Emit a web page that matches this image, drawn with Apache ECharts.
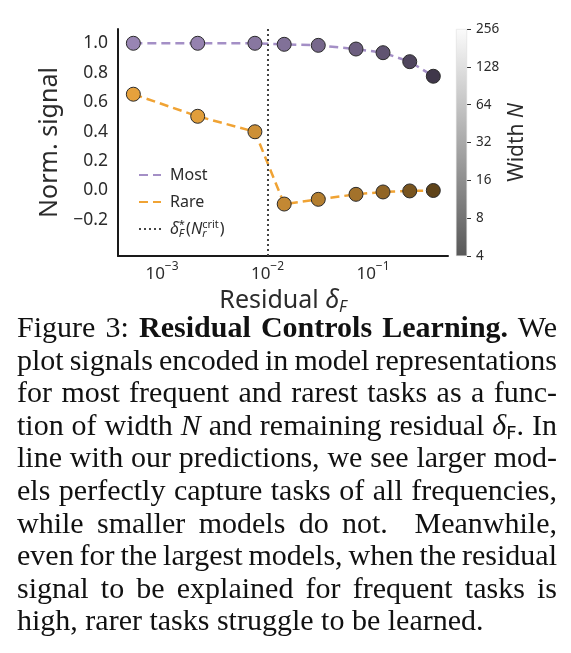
<!DOCTYPE html>
<html>
<head>
<meta charset="utf-8">
<script src="https://cdn.jsdelivr.net/npm/echarts@6/dist/echarts.min.js"></script>
<style>
  body { margin: 0; background: #fff; width: 571px; height: 653px; overflow: hidden; position: relative; }
  #chart { position: absolute; left: 0; top: 0; width: 571px; height: 325px; }
  #caption { position: absolute; left: 17px; top: 311px; width: 540px;
    font-family: "Liberation Serif", "Times New Roman", serif; font-size: 30px; line-height: 32.6px; color: #111;
    word-spacing: -2px; }
  #caption div { text-align: justify; text-align-last: justify; white-space: nowrap; }
  #caption div.last { text-align: left; text-align-last: left; word-spacing: 0; }
  #caption sub { font-family: "DejaVu Sans", sans-serif; font-size: 0.6em; vertical-align: -0.2em; line-height: 0; }
</style>
</head>
<body>
<div id="chart"></div>
<div id="caption">
  <div>Figure 3: <b>Residual Controls Learning.</b> We</div>
  <div>plot signals encoded in model representations</div>
  <div>for most frequent and rarest tasks as a func-</div>
  <div>tion of width <i>N</i> and remaining residual <i>δ</i><sub>F</sub>. In</div>
  <div>line with our predictions, we see larger mod-</div>
  <div>els perfectly capture tasks of all frequencies,</div>
  <div>while smaller models do not.&nbsp; Meanwhile,</div>
  <div>even for the largest models, when the residual</div>
  <div>signal to be explained for frequent tasks is</div>
  <div class="last">high, rarer tasks struggle to be learned.</div>
</div>
<script>
// values
var residual = [5.35e-4, 2.18e-3, 7.6e-3, 0.0144, 0.0303, 0.069, 0.1245, 0.223, 0.373];
var mostSignal = [1.0, 1.0, 1.0, 0.993, 0.986, 0.961, 0.936, 0.875, 0.776];
var rareSignal = [0.654, 0.504, 0.399, -0.092, -0.06, -0.026, -0.01, -0.003, 0.0];
var widthN = [256, 224, 128, 96, 64, 40, 24, 12, 6];
var critResidual = 0.0105;
var yTicks = [-0.2, 0.0, 0.2, 0.4, 0.6, 0.8, 1.0];
var widthMin = 4, widthMax = 256;

var FONT = '"Noto Sans", "DejaVu Sans", sans-serif';
var TXT = '#2b2b2b';
var purple = '#9885b3', orange = '#e6a13c';
var critName = 'crit';

// darken the base colour like the grey colour bar (white at 256, dark at 4)
function shade(hex, n) {
  var lo = Math.log2(widthMin), hi = Math.log2(widthMax);
  var g = 0.35 + 0.65 * (Math.log2(n) - lo) / (hi - lo);
  var c = [1, 3, 5].map(function (i) { return Math.round(parseInt(hex.substr(i, 2), 16) * g); });
  return 'rgb(' + c.join(',') + ')';
}

function pts(ys, base) {
  return residual.map(function (x, i) {
    return { value: [x, ys[i]], itemStyle: { color: shade(base, widthN[i]) } };
  });
}

var chart = echarts.init(document.getElementById('chart'));

var option = {
  animation: false,
  grid: [
    { left: 118, top: 29, width: 330, height: 227, containLabel: false, outerBoundsMode: 'none' },
    { left: 456, top: 29, width: 11, height: 227, containLabel: false, outerBoundsMode: 'none' }
  ],
  xAxis: [{
    type: 'log', gridIndex: 0,
    min: Math.pow(10, -3.417), max: Math.pow(10, -0.289),
    axisLine: { onZero: false, lineStyle: { color: '#1a1a1a', width: 2 } },
    axisTick: { show: false },
    splitLine: { show: false },
    axisLabel: {
      showMinLabel: false, showMaxLabel: false, margin: 5,
      formatter: function (v) {
        var e = Math.round(Math.log10(v));
        return '{b|10}{s|' + (e < 0 ? '\u2212' : '') + Math.abs(e) + '}';
      },
      rich: {
        b: { fontSize: 17, fontFamily: FONT, color: TXT, lineHeight: 22, verticalAlign: 'bottom' },
        s: { fontSize: 12, fontFamily: FONT, color: TXT, lineHeight: 12, verticalAlign: 'top' }
      }
    },
    name: 'Residual {d|\u03b4}{f|F}', nameLocation: 'middle', nameGap: 28,
    nameTextStyle: {
      fontSize: 25, fontFamily: FONT, color: TXT,
      rich: {
        d: { fontSize: 25, fontFamily: FONT, fontStyle: 'italic', color: TXT, lineHeight: 30, verticalAlign: 'middle' },
        f: { fontSize: 16, fontFamily: FONT, fontStyle: 'italic', color: TXT, lineHeight: 14, verticalAlign: 'bottom' }
      }
    }
  }, {
    type: 'category', gridIndex: 1, data: [''], show: false
  }],
  yAxis: [{
    type: 'value', gridIndex: 0, min: -0.445, max: 1.097,
    axisLine: { show: true, onZero: false, lineStyle: { color: '#1a1a1a', width: 2 } },
    axisTick: { show: false },
    splitLine: { show: false },
    axisLabel: {
      customValues: yTicks, margin: 10, fontSize: 17.5, fontFamily: FONT, color: TXT,
      formatter: function (v) { return (v < 0 ? '\u2212' : '') + Math.abs(v).toFixed(1); }
    },
    name: 'Norm. signal', nameLocation: 'middle', nameGap: 56,
    nameTextStyle: { fontSize: 25, fontFamily: FONT, color: TXT }
  }, {
    type: 'value', gridIndex: 1, position: 'right',
    min: Math.log2(widthMin), max: Math.log2(widthMax), interval: 1,
    axisLine: { show: false },
    axisTick: { show: true, length: 4, lineStyle: { color: '#333', width: 1 } },
    splitLine: { show: false },
    axisLabel: {
      margin: 9, fontSize: 13.5, fontFamily: FONT, color: TXT,
      formatter: function (v) { return String(Math.pow(2, v)); }
    },
    name: 'Width {n|N}', nameLocation: 'middle', nameGap: 40, nameRotate: 90,
    nameTextStyle: {
      fontSize: 21, fontFamily: FONT, color: TXT,
      rich: { n: { fontSize: 21, fontFamily: FONT, fontStyle: 'italic', color: TXT } }
    }
  }],
  legend: {
    data: ['Most', 'Rare', critName],
    orient: 'vertical', left: 133, top: 160, itemGap: 7,
    itemWidth: 22, itemHeight: 14,
    selectedMode: false,
    itemStyle: { opacity: 0 },
    textStyle: {
      fontSize: 16, fontFamily: FONT, color: TXT, lineHeight: 20, padding: [0, 0, 0, 4],
      rich: {
        m: { fontSize: 16, fontFamily: FONT, fontStyle: 'italic', color: TXT, lineHeight: 20, verticalAlign: 'middle' },
        t: { fontSize: 16, fontFamily: FONT, color: TXT, lineHeight: 20, verticalAlign: 'middle' },
        sp0: { fontSize: 11, fontFamily: FONT, color: TXT, lineHeight: 11, verticalAlign: 'top', width: 0 },
        sb: { fontSize: 11, fontFamily: FONT, fontStyle: 'italic', color: TXT, lineHeight: 11, verticalAlign: 'bottom', padding: [0, 2, 0, 0] },
        sb0: { fontSize: 11, fontFamily: FONT, fontStyle: 'italic', color: TXT, lineHeight: 11, verticalAlign: 'bottom', width: 0 },
        sp: { fontSize: 11, fontFamily: FONT, color: TXT, lineHeight: 11, verticalAlign: 'top', padding: [0, 1, 0, 0] }
      }
    },
    formatter: function (name) {
      if (name === critName) {
        return '{m|\u03b4}{sp0|*}{sb|F}{t|(}{m|N}{sb0|r}{sp|crit}{t|)}';
      }
      return name;
    }
  },
  series: [{
    name: 'Most', type: 'line', xAxisIndex: 0, yAxisIndex: 0,
    data: residual.map(function (x, i) { return [x, mostSignal[i]]; }),
    symbol: 'none', z: 2,
    lineStyle: { color: '#a48fc6', width: 2.5, type: [9, 5] }
  }, {
    name: 'Rare', type: 'line', xAxisIndex: 0, yAxisIndex: 0,
    data: residual.map(function (x, i) { return [x, rareSignal[i]]; }),
    symbol: 'none', z: 2,
    lineStyle: { color: '#f0a334', width: 2.5, type: [9, 5] }
  }, {
    name: critName, type: 'line', xAxisIndex: 0, yAxisIndex: 0,
    data: [], symbol: 'none', z: 1,
    lineStyle: { color: '#444', width: 2, type: [2, 3] },
    markLine: {
      silent: true, symbol: ['none', 'none'], label: { show: false },
      lineStyle: { color: '#444', width: 2, type: [2, 3] },
      data: [{ xAxis: critResidual }]
    }
  }, {
    name: 'MostPts', type: 'scatter', xAxisIndex: 0, yAxisIndex: 0,
    data: pts(mostSignal, purple), symbolSize: 14, z: 4,
    itemStyle: { borderColor: '#2a2a2a', borderWidth: 1, opacity: 1 }
  }, {
    name: 'RarePts', type: 'scatter', xAxisIndex: 0, yAxisIndex: 0,
    data: pts(rareSignal, orange), symbolSize: 14, z: 4,
    itemStyle: { borderColor: '#2a2a2a', borderWidth: 1, opacity: 1 }
  }, {
    // colour bar: transparent base up to the lowest width, grey gradient above
    name: 'cbBase', type: 'bar', xAxisIndex: 1, yAxisIndex: 1, stack: 'cb',
    data: [Math.log2(widthMin)], barWidth: '100%', silent: true,
    itemStyle: { color: 'rgba(0,0,0,0)' }
  }, {
    name: 'cbBar', type: 'bar', xAxisIndex: 1, yAxisIndex: 1, stack: 'cb',
    data: [Math.log2(widthMax) - Math.log2(widthMin)], barWidth: '100%', silent: true,
    itemStyle: {
      color: { type: 'linear', x: 0, y: 0, x2: 0, y2: 1,
        colorStops: [{ offset: 0, color: '#fbfbfb' }, { offset: 1, color: '#585858' }] },
      borderColor: '#d8d8d8', borderWidth: 0.5
    }
  }]
};

chart.setOption(option);
</script>
</body>
</html>
